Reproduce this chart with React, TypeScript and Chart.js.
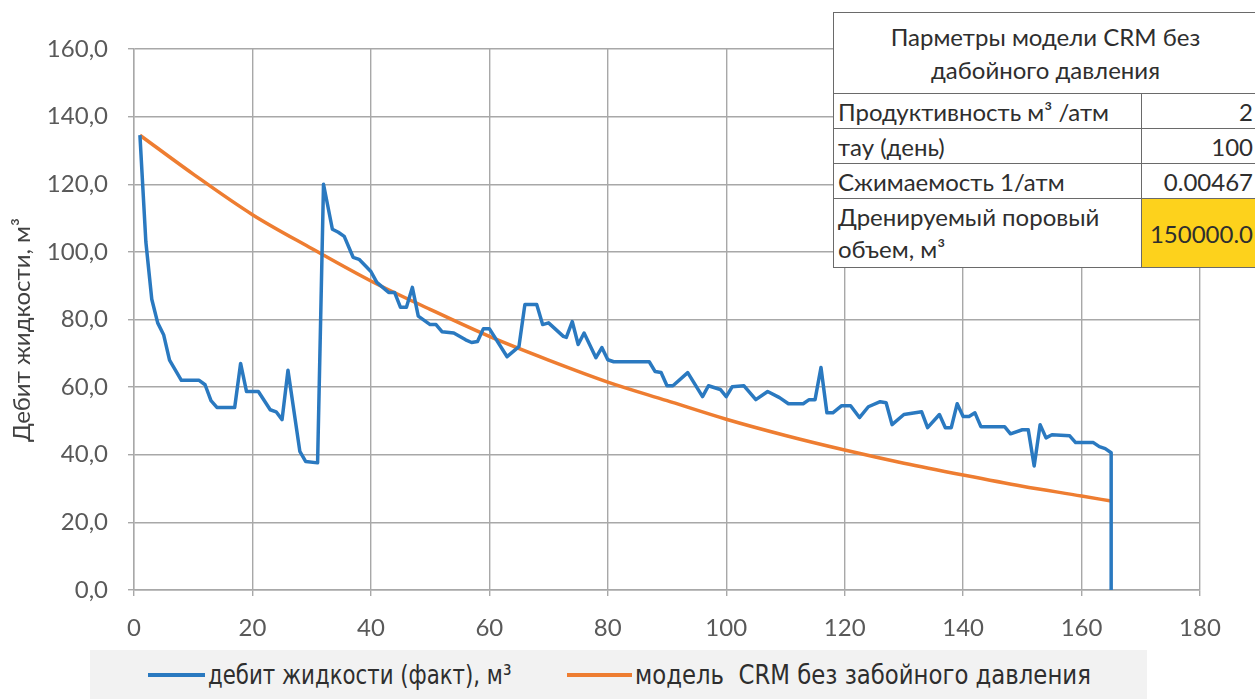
import React, { useEffect, useRef } from "react";
import { Chart, registerables } from "chart.js";

Chart.register(...registerables);

// ---- data ----
const factDays = [
  1, 2, 3, 4, 5, 6, 8, 11, 12, 13, 14, 17, 18, 19, 21, 23, 24, 25, 26, 28, 29, 31,
  32, 33.5, 34.5, 35.5, 37, 38, 40, 41, 43, 44, 45, 46, 47, 48, 50, 51, 52, 54, 56,
  57, 58, 59, 60, 63, 65, 66, 68, 69, 70, 72.5, 73, 74, 75, 76, 78, 79, 80, 81, 87,
  88, 89, 90, 91, 93.5, 96, 97, 99, 100, 101, 103, 105, 107, 109, 110.5, 113, 114,
  115, 116, 117, 118, 119.5, 121, 122.5, 124, 126, 127, 128, 130, 133, 134, 136,
  137, 138, 139, 140, 141, 142, 143, 147, 148, 150, 151, 152, 153, 154, 155, 158,
  159, 162, 163, 164, 165, 165,
];
const factValues = [
  134.5, 103, 86, 79, 75.5, 68, 62, 62, 60.7, 56, 54, 54, 67, 58.7, 58.7, 53.3, 52.7,
  50.4, 65, 41, 38, 37.6, 120, 106.7, 105.8, 104.6, 98.4, 97.8, 94.2, 91, 88, 88,
  83.6, 83.6, 89.5, 81, 78.5, 78.5, 76.4, 76, 74, 73.2, 73.5, 77.3, 77.3, 69, 72,
  84.4, 84.4, 78.5, 79, 75, 74.7, 79.4, 72.6, 76, 68.7, 71.7, 68.1, 67.5, 67.5, 64.6,
  64.3, 60.4, 60.4, 64.3, 57.2, 60.4, 59.3, 57.2, 60.1, 60.4, 56.3, 58.7, 56.9, 55.1,
  55.1, 56.3, 56.3, 65.8, 52.4, 52.4, 54.5, 54.5, 51, 54.2, 55.7, 55.4, 48.9, 51.9,
  52.7, 48, 51.9, 48, 48, 55.1, 51.3, 51.3, 52.4, 48.3, 48.3, 46.2, 47.4, 47.4, 36.7,
  48.9, 45, 45.9, 45.6, 43.6, 43.6, 42.4, 41.8, 40.6, 0,
];
const modelDays = [1, 10, 20, 30, 40, 50, 60, 70, 80, 90, 100, 110, 120, 130, 140, 150, 160, 165];
const modelValues = [
  134.5, 123, 111, 101, 91.4, 83, 75, 68, 61.5, 56, 50.5, 45.7, 41.4, 37.5, 34, 30.7,
  27.8, 26.3,
];
const xTicks = [0, 20, 40, 60, 80, 100, 120, 140, 160, 180];
const yTicks = [0, 20, 40, 60, 80, 100, 120, 140, 160];
const seriesLabels = ["дебит жидкости (факт), м³", "модель  CRM без забойного давления"];
const yAxisTitle = "Дебит жидкости, м³";
const tableTitle = ["Парметры модели CRM без", "дабойного давления"];
const paramNames = ["Продуктивность м³ /атм", "тау (день)", "Сжимаемость 1/атм"];
const paramValues = ["2", "100", "0.00467"];
const volumeName = ["Дренируемый поровый", "объем, м³"];
const volumeValue = "150000.0";

const BLUE = "#2a79c0";
const ORANGE = "#ee7d31";
const GRID = "#a8a8a8";
const TICK_FONT = "Lato, 'Open Sans', sans-serif";

export default function App() {
  const ref = useRef<HTMLCanvasElement | null>(null);

  useEffect(() => {
    if (!ref.current) return;
    const chart = new Chart(ref.current, {
      type: "line",
      data: {
        datasets: [
          {
            label: seriesLabels[0],
            data: factDays.map((d, i) => ({ x: d, y: factValues[i] })),
            borderColor: BLUE,
            backgroundColor: BLUE,
            borderWidth: 3.5,
            pointRadius: 0,
            tension: 0,
            borderJoinStyle: "round",
          },
          {
            label: seriesLabels[1],
            data: modelDays.map((d, i) => ({ x: d, y: modelValues[i] })),
            borderColor: ORANGE,
            backgroundColor: ORANGE,
            borderWidth: 3.5,
            pointRadius: 0,
            tension: 0.4,
            cubicInterpolationMode: "monotone",
          },
        ],
      },
      options: {
        animation: false,
        responsive: false,
        layout: { padding: { top: 49, right: 55, left: 0, bottom: 0 } },
        plugins: {
          legend: { display: false },
          tooltip: { enabled: false },
        },
        scales: {
          x: {
            type: "linear",
            min: xTicks[0],
            max: xTicks[xTicks.length - 1],
            afterBuildTicks: (s: any) => {
              s.ticks = xTicks.map((v) => ({ value: v }));
            },
            afterFit: (s: any) => {
              s.height = 109;
            },
            ticks: {
              font: { family: TICK_FONT, size: 24 },
              color: "#595959",
              padding: 18,
              maxRotation: 0,
            },
            grid: { color: GRID, lineWidth: 1.4, tickLength: 6 },
            border: { color: GRID, width: 1.4 },
          },
          y: {
            type: "linear",
            min: yTicks[0],
            max: yTicks[yTicks.length - 1],
            afterBuildTicks: (s: any) => {
              s.ticks = yTicks.map((v) => ({ value: v }));
            },
            afterFit: (s: any) => {
              s.width = 134;
            },
            ticks: {
              font: { family: TICK_FONT, size: 24 },
              color: "#595959",
              padding: 20,
              callback: (v: any) => Number(v).toFixed(1).replace(".", ","),
            },
            grid: { color: GRID, lineWidth: 1.4, tickLength: 6 },
            border: { color: GRID, width: 1.4 },
          },
        },
      },
    });
    return () => chart.destroy();
  }, []);

  const border = "1.5px solid #6a6a6a";
  const cell: React.CSSProperties = {
    border,
    padding: "0 4px",
    fontFamily: TICK_FONT,
    fontSize: 24,
    color: "#2e2e2e",
    lineHeight: "33px",
    whiteSpace: "nowrap",
  };

  return (
    <div
      style={{
        position: "fixed",
        left: 0,
        top: 0,
        width: 1255,
        height: 699,
        overflow: "hidden",
        background: "#ffffff",
      }}
    >
      <canvas ref={ref} width={1255} height={699} style={{ position: "absolute", left: 0, top: 0 }} />

      <div
        style={{
          position: "absolute",
          left: 21,
          top: 330,
          transform: "translate(-50%, -50%) rotate(-90deg)",
          whiteSpace: "nowrap",
          fontFamily: TICK_FONT,
          fontSize: 24,
          color: "#404040",
          lineHeight: "28px",
        }}
      >
        {yAxisTitle}
      </div>

      <table
        style={{
          position: "absolute",
          left: 833,
          top: 12,
          borderCollapse: "collapse",
          background: "#ffffff",
          tableLayout: "fixed",
          width: 430,
        }}
      >
        <colgroup>
          <col style={{ width: 308 }} />
          <col style={{ width: 122 }} />
        </colgroup>
        <tbody>
          <tr style={{ height: 81 }}>
            <td colSpan={2} style={{ ...cell, textAlign: "center", paddingRight: 10 }}>
              {tableTitle[0]}
              <br />
              {tableTitle[1]}
            </td>
          </tr>
          {paramNames.map((n, i) => (
            <tr key={n} style={{ height: 35 }}>
              <td style={cell}>{n}</td>
              <td style={{ ...cell, textAlign: "right", paddingRight: 10 }}>{paramValues[i]}</td>
            </tr>
          ))}
          <tr style={{ height: 69 }}>
            <td style={{ ...cell, lineHeight: "32px" }}>
              {volumeName[0]}
              <br />
              {volumeName[1]}
            </td>
            <td style={{ ...cell, textAlign: "right", paddingRight: 10, background: "#fdd21c" }}>
              {volumeValue}
            </td>
          </tr>
        </tbody>
      </table>

      <div
        style={{
          position: "absolute",
          left: 90,
          top: 650,
          width: 1057,
          height: 49,
          background: "#f2f2f2",
        }}
      >
        {[0, 1].map((i) => (
          <div
            key={i}
            style={{
              position: "absolute",
              left: i === 0 ? 58 : 477,
              top: 0,
              height: 49,
              display: "flex",
              alignItems: "center",
              whiteSpace: "pre",
              fontFamily: "'DejaVu Sans Condensed', 'Liberation Sans Narrow', sans-serif",
              fontSize: 26,
              color: "#2e2e2e",
            }}
          >
            <span
              style={{
                display: "inline-block",
                width: i === 0 ? 57 : 65,
                height: 4,
                background: i === 0 ? BLUE : ORANGE,
                marginRight: 3,
              }}
            />
            <span
              style={{
                display: "inline-block",
                transform: i === 0 ? "scaleX(0.91)" : "scaleX(0.975)",
                transformOrigin: "left center",
              }}
            >
              {seriesLabels[i]}
            </span>
          </div>
        ))}
      </div>
    </div>
  );
}
